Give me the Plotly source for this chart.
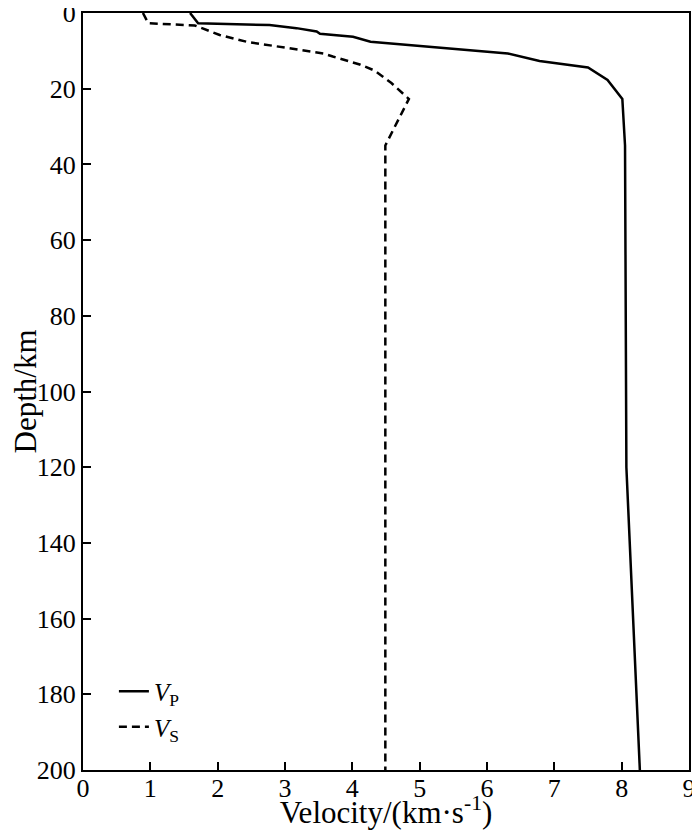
import plotly.graph_objects as go

# P-wave velocity profile (km/s) against depth (km)
vp_depth = [0, 2.7, 3.2, 4.0, 4.9, 5.5, 6.3, 7.6, 10.7, 12.7, 14.4, 17.7, 22.7, 35, 120, 200]
vp = [1.59, 1.71, 2.77, 3.17, 3.47, 3.52, 4.01, 4.27, 6.31, 6.78, 7.50, 7.79, 8.01, 8.05, 8.07, 8.27]

# S-wave velocity profile
vs_depth = [0, 2.7, 3.3, 5.8, 7.6, 10.7, 11.5, 13.6, 15.2, 18.5, 22.7, 35, 200]
vs = [0.89, 0.97, 1.66, 2.03, 2.43, 3.57, 3.71, 4.11, 4.33, 4.58, 4.84, 4.49, 4.49]

font = '"Liberation Serif", "Times New Roman", Times, serif'

fig = go.Figure()

fig.add_trace(go.Scatter(
    x=vp,
    y=vp_depth,
    mode="lines",
    name="<i>V</i><sub>P</sub>",
    line=dict(color="black", width=2.5)))

fig.add_trace(go.Scatter(
    x=vs,
    y=vs_depth,
    mode="lines",
    name="<i>V</i><sub>S</sub>",
    line=dict(color="black", width=2.5, dash="8px,5px")))

# page body keeps its default 8px margin, so the figure is sized to fit without scrollbars
fig.update_layout(
    width=684,
    height=822,
    margin=dict(l=75, r=3, t=5, b=60),
    plot_bgcolor="white",
    paper_bgcolor="white",
    font=dict(family=font, size=26, color="black"),
    showlegend=True,
    legend=dict(
        x=0.051,
        y=0.134,
        xanchor="left",
        yanchor="top",
        bgcolor="rgba(0,0,0,0)",
        font=dict(size=25),
        tracegroupgap=0))

fig.update_xaxes(
    range=[0, 9],
    dtick=1,
    automargin=False,
    ticks="inside",
    ticklen=8,
    tickwidth=1.5,
    tickcolor="black",
    ticklabelstandoff=-6,
    ticklabeloverflow="allow",
    showline=True,
    linecolor="black",
    linewidth=2,
    mirror=True,
    showgrid=False,
    zeroline=False,
    title=dict(text="Velocity/(km·s<sup>-1</sup>)", standoff=2))

fig.update_yaxes(
    range=[200, 0],
    dtick=20,
    automargin=False,
    ticks="inside",
    ticklen=8,
    tickwidth=1.5,
    tickcolor="black",
    ticklabelstandoff=0,
    ticklabeloverflow="allow",
    showline=True,
    linecolor="black",
    linewidth=2,
    mirror=True,
    showgrid=False,
    zeroline=False,
    title=dict(text="Depth/km", standoff=2))

fig.write_html("out.html")
